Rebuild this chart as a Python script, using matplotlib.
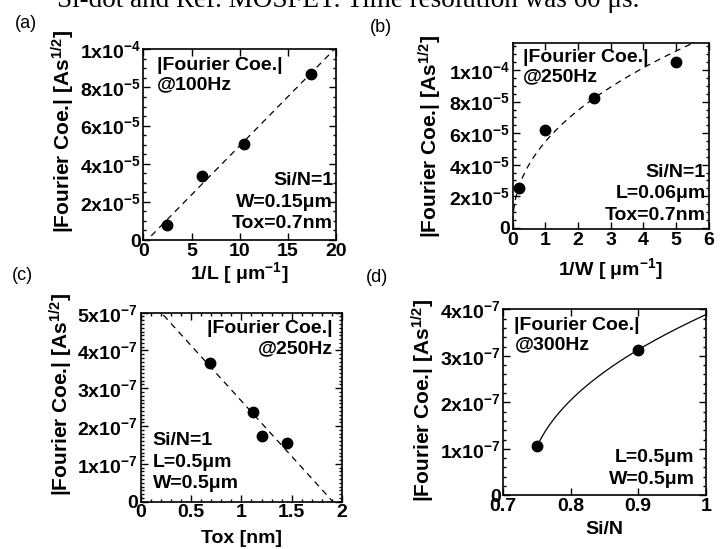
import numpy as np
import matplotlib
matplotlib.use("Agg")
import matplotlib.pyplot as plt
from matplotlib.ticker import FixedLocator, MultipleLocator

plt.rcParams['font.family'] = ['Liberation Sans', 'DejaVu Sans']
plt.rcParams['font.weight'] = 'bold'
plt.rcParams['axes.labelweight'] = 'bold'
plt.rcParams['mathtext.fontset'] = 'custom'
plt.rcParams['mathtext.rm'] = 'Liberation Sans:bold'
plt.rcParams['mathtext.bf'] = 'Liberation Sans:bold'
plt.rcParams['mathtext.it'] = 'Liberation Sans:bold'

# (a) |Fourier coe.| at 100 Hz vs 1/L
a_x = [2.45, 6.1, 10.4, 17.4]
a_y = [0.79e-5, 3.35e-5, 5.05e-5, 8.7e-5]
a_xticks = [0, 5, 10, 15, 20]
a_yticks = [0, 2e-5, 4e-5, 6e-5, 8e-5, 1e-4]
a_ylabels = ['0', '2x10$^{-5}$', '4x10$^{-5}$', '6x10$^{-5}$', '8x10$^{-5}$', '1x10$^{-4}$']

# (b) |Fourier coe.| at 250 Hz vs 1/W
b_x = [0.2, 1.0, 2.5, 5.0]
b_y = [2.5e-5, 6.2e-5, 8.25e-5, 1.05e-4]
b_xticks = [0, 1, 2, 3, 4, 5, 6]
b_yticks = [0, 2e-5, 4e-5, 6e-5, 8e-5, 1e-4]
b_ylabels = ['0', '2x10$^{-5}$', '4x10$^{-5}$', '6x10$^{-5}$', '8x10$^{-5}$', '1x10$^{-4}$']

# (c) |Fourier coe.| at 250 Hz vs Tox
c_x = [0.69, 1.12, 1.2, 1.45]
c_y = [3.66e-7, 2.37e-7, 1.74e-7, 1.54e-7]
c_xticks = [0, 0.5, 1, 1.5, 2]
c_xlabels = ['0', '0.5', '1', '1.5', '2']
c_yticks = [0, 1e-7, 2e-7, 3e-7, 4e-7, 5e-7]
c_ylabels = ['0', '1x10$^{-7}$', '2x10$^{-7}$', '3x10$^{-7}$', '4x10$^{-7}$', '5x10$^{-7}$']

# (d) |Fourier coe.| at 300 Hz vs Si/N
d_x = [0.75, 0.9]
d_y = [1.05e-7, 3.13e-7]
d_onset = 0.735
d_xticks = [0.7, 0.8, 0.9, 1.0]
d_xlabels = ['0.7', '0.8', '0.9', '1']
d_yticks = [0, 1e-7, 2e-7, 3e-7, 4e-7]
d_ylabels = ['0', '1x10$^{-7}$', '2x10$^{-7}$', '3x10$^{-7}$', '4x10$^{-7}$']

ylab = '|Fourier Coe.| [As$^{1/2}$]'
FS = 14

fig = plt.figure(figsize=(7.25, 5.49), dpi=100)

fig.text(57 / 725, 0.9872, 'Si-dot and Ref. MOSFET. Time resolution was 60 \u03bcs.',
         family='Liberation Serif', weight='normal', fontsize=19.5, va='baseline')


def setup(ax, xlim, ylim, xticks, xlabels, yticks, ylabels, xminor, yminor, ylab_xy):
    ax.set_xlim(xlim)
    ax.set_ylim(ylim)
    ax.xaxis.set_major_locator(FixedLocator(xticks))
    ax.set_xticklabels(xlabels)
    ax.yaxis.set_major_locator(FixedLocator(yticks))
    ax.set_yticklabels(ylabels)
    if xminor:
        ax.xaxis.set_minor_locator(MultipleLocator(xminor))
    if yminor:
        ax.yaxis.set_minor_locator(MultipleLocator(yminor))
    ax.tick_params(which='both', direction='in', top=True, right=True,
                   labelsize=FS, pad=2, width=1)
    ax.tick_params(which='major', length=5)
    ax.tick_params(which='minor', length=2.5)
    for s in ax.spines.values():
        s.set_linewidth(1.2)
    ax.set_ylabel(ylab, fontsize=15)
    ax.yaxis.set_label_coords(*ylab_xy)


# (a)
ax = fig.add_axes([0.1977, 0.5628, 0.2658, 0.3474])
setup(ax, (0, 20), (0, 1e-4), a_xticks, [str(t) for t in a_xticks],
      a_yticks, a_ylabels, None, 5e-6, (-0.344, 0.569))
fa = np.polyfit(a_x, a_y, 1)
xx = np.linspace(0, 20, 50)
ax.plot(xx, np.polyval(fa, xx), color='k', lw=0.9, ls=(0, (5, 4)))
ax.plot(a_x, a_y, 'o', color='k', ms=7.5)
ax.set_xlabel('1/L [ \u03bcm$^{-1}$]', fontsize=FS, labelpad=0.5)
ax.text(0.07, 0.96, '|Fourier Coe.|\n@100Hz', transform=ax.transAxes,
        fontsize=FS, va='top', ha='left', linespacing=1.2)
ax.text(0.985, 0.04, 'Si/N=1\nW=0.15\u03bcm\nTox=0.7nm', transform=ax.transAxes,
        fontsize=FS, va='bottom', ha='right', multialignment='right', linespacing=1.35)

# (b)
ax = fig.add_axes([0.7072, 0.5823, 0.2703, 0.3388])
setup(ax, (0, 6), (-0.1e-5, 1.17e-4), b_xticks, [str(t) for t in b_xticks],
      b_yticks, b_ylabels, None, 5e-6, (-0.35, 0.5))
fb = np.polyfit(np.log(b_x), np.log(b_y), 1)
xx = np.linspace(0.002, 6, 400)
ax.plot(xx, np.exp(fb[1]) * xx ** fb[0], color='k', lw=0.9, ls=(0, (5, 4)))
ax.plot(b_x, b_y, 'o', color='k', ms=7.5)
ax.set_xlabel('1/W [ \u03bcm$^{-1}$]', fontsize=FS, labelpad=5)
ax.text(0.05, 0.97, '|Fourier Coe.|\n@250Hz', transform=ax.transAxes,
        fontsize=FS, va='top', ha='left', linespacing=1.2)
ax.text(0.985, 0.03, 'Si/N=1\nL=0.06\u03bcm\nTox=0.7nm', transform=ax.transAxes,
        fontsize=FS, va='bottom', ha='right', multialignment='right', linespacing=1.35)

# (c)
ax = fig.add_axes([0.1941, 0.0862, 0.2777, 0.3443])
setup(ax, (0, 2), (0, 5e-7), c_xticks, c_xlabels,
      c_yticks, c_ylabels, 0.1, 1e-8, (-0.326, 0.565))
fc = np.polyfit(c_x, c_y, 1)
xx = np.linspace(0, 2, 50)
ax.plot(xx, np.polyval(fc, xx), color='k', lw=0.9, ls=(0, (5, 4)))
ax.plot(c_x, c_y, 'o', color='k', ms=7.5)
ax.set_xlabel('Tox [nm]', fontsize=FS, labelpad=6)
ax.text(0.955, 0.96, '|Fourier Coe.|\n@250Hz', transform=ax.transAxes,
        fontsize=FS, va='top', ha='right', multialignment='right', linespacing=1.2)
ax.text(0.06, 0.05, 'Si/N=1\nL=0.5\u03bcm\nW=0.5\u03bcm', transform=ax.transAxes,
        fontsize=FS, va='bottom', ha='left', linespacing=1.35)

# (d)
ax = fig.add_axes([0.6942, 0.0978, 0.2792, 0.3388])
setup(ax, (0.7, 1.0), (0, 4e-7), d_xticks, d_xlabels,
      d_yticks, d_ylabels, None, 2e-8, (-0.328, 0.512))
pw = np.log(d_y[1] / d_y[0]) / np.log((d_x[1] - d_onset) / (d_x[0] - d_onset))
xx = np.linspace(d_x[0], 1.0, 200)
ax.plot(xx, d_y[1] * ((xx - d_onset) / (d_x[1] - d_onset)) ** pw, color='k', lw=0.9)
ax.plot(d_x, d_y, 'o', color='k', ms=7.5)
ax.set_xlabel('Si/N', fontsize=FS, labelpad=4)
ax.text(0.055, 0.96, '|Fourier Coe.|\n@300Hz', transform=ax.transAxes,
        fontsize=FS, va='top', ha='left', linespacing=1.2)
ax.text(0.945, 0.04, 'L=0.5\u03bcm\nW=0.5\u03bcm', transform=ax.transAxes,
        fontsize=FS, va='bottom', ha='right', multialignment='right', linespacing=1.35)

# panel letters
for lab, x, y in [('(a)', 15, 23), ('(b)', 370, 27), ('(c)', 12, 276), ('(d)', 366, 278)]:
    fig.text(x / 725, 1 - y / 549, lab, fontsize=13, weight='normal', va='center', ha='left')

fig.savefig('out.png', dpi=100)
